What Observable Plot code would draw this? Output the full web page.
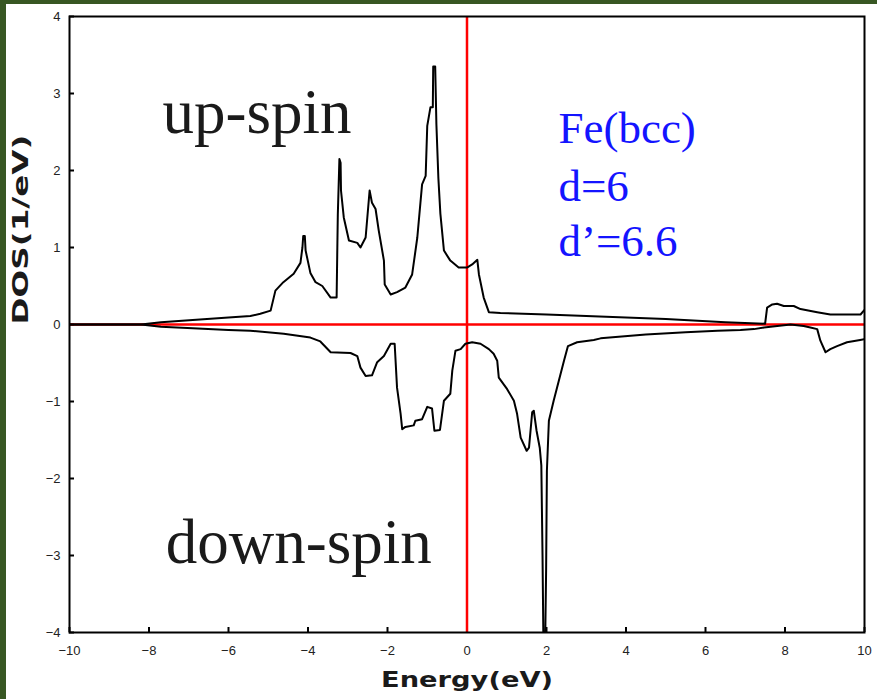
<!DOCTYPE html>
<html>
<head>
<meta charset="utf-8">
<script src="https://cdn.jsdelivr.net/npm/d3@7"></script>
<script src="https://cdn.jsdelivr.net/npm/@observablehq/plot@0.6"></script>
<style>
  html, body { margin: 0; padding: 0; background: #385723; width: 877px; height: 699px; overflow: hidden; }
  #panel { position: absolute; left: 6px; top: 4px; width: 871px; height: 695px; background: #fff; }
  #panel svg { display: block; }
</style>
</head>
<body>
<div id="panel"></div>
<script>
// Up-spin DOS (energy in eV, DOS in 1/eV)
const upE = [-10, -8.2, -7.7, -6.9, -6.0, -5.45, -5.2, -4.94, -4.82, -4.62, -4.36, -4.19, -4.14, -4.12, -4.08, -4.06, -3.94, -3.81, -3.64, -3.43, -3.28, -3.25, -3.21, -3.18, -3.17, -3.10, -2.97, -2.76, -2.68, -2.55, -2.45, -2.39, -2.30, -2.22, -2.09, -2.07, -1.92, -1.76, -1.55, -1.38, -1.25, -1.13, -1.04, -1.0, -0.92, -0.86, -0.85, -0.80, -0.77, -0.72, -0.67, -0.58, -0.42, -0.21, 0.0, 0.13, 0.26, 0.30, 0.42, 0.55, 0.84, 2.0, 3.5, 5.0, 6.5, 7.5, 7.55, 7.68, 7.80, 7.97, 8.22, 8.39, 8.81, 9.14, 9.9, 10.0];
const upDOS = [0, 0, 0.03, 0.06, 0.09, 0.11, 0.14, 0.18, 0.44, 0.55, 0.66, 0.80, 1.0, 1.15, 1.15, 0.96, 0.67, 0.55, 0.50, 0.35, 0.35, 1.43, 2.15, 2.1, 1.74, 1.39, 1.09, 1.06, 1.00, 1.13, 1.74, 1.58, 1.50, 1.22, 0.83, 0.52, 0.39, 0.42, 0.48, 0.65, 1.13, 1.82, 1.93, 2.58, 2.82, 2.82, 3.35, 3.35, 2.6, 1.9, 1.44, 0.96, 0.83, 0.74, 0.74, 0.78, 0.84, 0.65, 0.35, 0.16, 0.15, 0.13, 0.10, 0.07, 0.03, 0.01, 0.22, 0.26, 0.27, 0.24, 0.24, 0.20, 0.16, 0.13, 0.13, 0.19];

// Down-spin DOS
const downE = [-10, -8.2, -7.7, -6.9, -6.0, -5.45, -4.61, -3.94, -3.69, -3.43, -2.93, -2.76, -2.68, -2.55, -2.39, -2.26, -2.09, -1.92, -1.82, -1.76, -1.67, -1.63, -1.55, -1.34, -1.30, -1.13, -1.0, -0.88, -0.82, -0.68, -0.58, -0.42, -0.37, -0.29, -0.16, -0.04, 0.13, 0.34, 0.55, 0.67, 0.76, 0.80, 1.01, 1.18, 1.26, 1.35, 1.50, 1.56, 1.64, 1.68, 1.75, 1.83, 1.87, 1.90, 1.92, 1.97, 1.99, 2.01, 2.06, 2.18, 2.31, 2.44, 2.54, 2.77, 3.19, 3.36, 4.5, 5.5, 6.3, 6.88, 7.22, 7.47, 8.14, 8.47, 8.64, 8.81, 8.89, 9.02, 9.14, 9.31, 9.56, 9.89, 10.0];
const downDOS = [0, 0, -0.03, -0.05, -0.07, -0.08, -0.12, -0.17, -0.22, -0.36, -0.37, -0.41, -0.56, -0.67, -0.66, -0.49, -0.41, -0.25, -0.25, -0.82, -1.16, -1.36, -1.33, -1.31, -1.25, -1.23, -1.07, -1.09, -1.38, -1.37, -0.99, -0.90, -0.60, -0.34, -0.32, -0.25, -0.23, -0.25, -0.32, -0.38, -0.47, -0.69, -0.84, -0.99, -1.16, -1.47, -1.64, -1.60, -1.14, -1.12, -1.38, -1.60, -1.83, -3.0, -4.0, -4.0, -3.2, -1.9, -1.25, -0.99, -0.73, -0.47, -0.28, -0.23, -0.20, -0.18, -0.13, -0.10, -0.08, -0.07, -0.06, -0.04, 0.0, -0.02, -0.04, -0.06, -0.21, -0.36, -0.32, -0.28, -0.23, -0.20, -0.19];

// Axes
const xTicks = [-10, -8, -6, -4, -2, 0, 2, 4, 6, 8, 10];
const yTicks = [-4, -3, -2, -1, 0, 1, 2, 3, 4];
const xLabel = "Energy(eV)";
const yLabel = "DOS(1/eV)";

// Annotations
const spinLabels = ["up-spin", "down-spin"];
const spinX = [-7.66, -7.58];
const spinY = [2.49, -3.10];
const infoLabels = ["Fe(bcc)", "d=6", "d\u2019=6.6"];
const infoX = [2.30, 2.30, 2.30];
const infoY = [2.36, 1.605, 0.892];

const up = upE.map((e, i) => ({E: e, DOS: upDOS[i]}));
const down = downE.map((e, i) => ({E: e, DOS: downDOS[i]}));
const spins = spinLabels.map((t, i) => ({t, x: spinX[i], y: spinY[i]}));
const infos = infoLabels.map((t, i) => ({t, x: infoX[i], y: infoY[i]}));

const W = 871, H = 695, mL = 63, mR = 13, mT = 12, mB = 67;
const fw = W - mL - mR, fh = H - mT - mB;
const intFmt = d3.format("d");

const chart = Plot.plot({
  width: W, height: H,
  marginLeft: mL, marginRight: mR, marginTop: mT, marginBottom: mB,
  style: {background: "#fff", fontFamily: "'Liberation Sans', Arial, sans-serif", overflow: "visible"},
  x: {domain: [-10, 10], ticks: xTicks},
  y: {domain: [-4, 4], ticks: yTicks},
  marks: [
    Plot.axisX(xTicks, {tickSize: 0, tickPadding: 13, fontSize: 13, color: "#222", label: null, tickFormat: intFmt}),
    Plot.axisY(yTicks, {tickSize: 0, tickPadding: 9, fontSize: 13, color: "#222", label: null, tickFormat: intFmt}),
    Plot.tickX(xTicks, {x: d => d, insetTop: fh - 5, stroke: "#000", strokeWidth: 2}),
    Plot.tickY(yTicks, {y: d => d, insetRight: fw - 5, stroke: "#000", strokeWidth: 2}),
    Plot.ruleY([0], {stroke: "#f00", strokeWidth: 2.5}),
    Plot.ruleX([0], {stroke: "#f00", strokeWidth: 2.5}),
    Plot.line(up, {x: "E", y: "DOS", stroke: "#000", strokeWidth: 2, clip: true}),
    Plot.line(down, {x: "E", y: "DOS", stroke: "#000", strokeWidth: 2, clip: true}),
    Plot.frame({stroke: "#000", strokeWidth: 2}),
    Plot.text(spins, {x: "x", y: "y", text: "t", textAnchor: "start", lineAnchor: "bottom",
      fontFamily: "'Liberation Serif', 'Times New Roman', serif", fontSize: 63, fill: "#1a1a1a"}),
    Plot.text(infos, {x: "x", y: "y", text: "t", textAnchor: "start", lineAnchor: "bottom",
      fontFamily: "'Liberation Serif', 'Times New Roman', serif", fontSize: 45, fill: "#1414ff"}),
    Plot.text([xLabel], {frameAnchor: "bottom", dy: 54, text: d => d,
      fontFamily: "'DejaVu Sans', Verdana, sans-serif", fontWeight: "bold", fontSize: 22, fill: "#1a1a1a"}),
    Plot.text([yLabel], {frameAnchor: "left", dx: -49, rotate: -90, text: d => d,
      fontFamily: "'DejaVu Sans', Verdana, sans-serif", fontWeight: "bold", fontSize: 22, fill: "#1a1a1a"})
  ]
});

document.getElementById("panel").appendChild(chart);

// Stretch axis titles to the reference width
d3.select(chart).selectAll("text").each(function() {
  if (this.textContent === xLabel) {
    d3.select(this).attr("textLength", 172).attr("lengthAdjust", "spacingAndGlyphs");
  } else if (this.textContent === yLabel) {
    d3.select(this).attr("textLength", 190).attr("lengthAdjust", "spacingAndGlyphs");
  }
});
</script>
</body>
</html>
